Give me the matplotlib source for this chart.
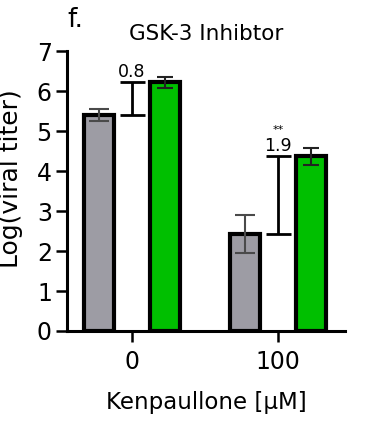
import numpy as np
import matplotlib
matplotlib.use('Agg')
import matplotlib.pyplot as plt

# Kenpaullone doses and log viral titer (mean, error)
doses = ['0', '100']
gray_mean = [5.40, 2.43]
gray_err = [0.15, 0.48]
green_mean = [6.22, 4.37]
green_err = [0.13, 0.21]
diff_labels = ['0.8', '1.9']
sig_labels = ['', '**']

plt.rcParams['font.family'] = ['DejaVu Sans']

fig = plt.figure(figsize=(3.77, 4.23), dpi=100)
ax = fig.add_axes([0.178, 0.2175, 0.737, 0.6615])

x = np.arange(len(doses))
offset = 0.226
width = 0.21

ax.bar(x - offset, gray_mean, width, color='#9d9ca4', edgecolor='black',
       linewidth=3, zorder=2)
ax.bar(x + offset, green_mean, width, color='#00bf00', edgecolor='black',
       linewidth=3, zorder=2)

ax.errorbar(x - offset, gray_mean, yerr=gray_err, fmt='none', ecolor='#4a4a4a',
            elinewidth=1.5, capsize=7, capthick=1.5, zorder=3)
ax.errorbar(x + offset, green_mean, yerr=green_err, fmt='none', ecolor='#222222',
            elinewidth=1.5, capsize=6, capthick=1.5, zorder=3)

# difference brackets between the two bars
diff = np.array(green_mean) - np.array(gray_mean)
lower = np.zeros(len(doses))
ax.errorbar(x, gray_mean, yerr=[lower, diff], fmt='none', ecolor='black',
            elinewidth=2, capsize=9, capthick=2, zorder=3)

for i in range(len(doses)):
    ax.text(x[i], green_mean[i] + 0.03, diff_labels[i], ha='center', va='bottom',
            fontsize=12.5)
    if sig_labels[i]:
        ax.text(x[i], green_mean[i] + 0.54, sig_labels[i], ha='center',
                va='bottom', fontsize=8)

ax.set_xlim(-0.445, 1.459)
ax.set_ylim(0, 7)
ax.set_yticks(range(8))
ax.set_xticks(x)
ax.set_xticklabels(doses)

for s in ['top', 'right']:
    ax.spines[s].set_visible(False)
for s in ['left', 'bottom']:
    ax.spines[s].set_linewidth(2.2)
ax.tick_params(width=1.8, length=8, labelsize=17, pad=3)
ax.tick_params(axis='x', pad=6)

ax.set_ylabel('Log(viral titer)', fontsize=18)
ax.yaxis.set_label_coords(-0.16, 0.545)
ax.set_xlabel('Kenpaullone [\u00b5M]', fontsize=16.5, labelpad=12)
ax.set_title('GSK-3 Inhibtor', fontsize=15.5, pad=8)
fig.text(0.18, 0.935, 'f.', fontsize=19)

plt.savefig('out.png', dpi=100)
